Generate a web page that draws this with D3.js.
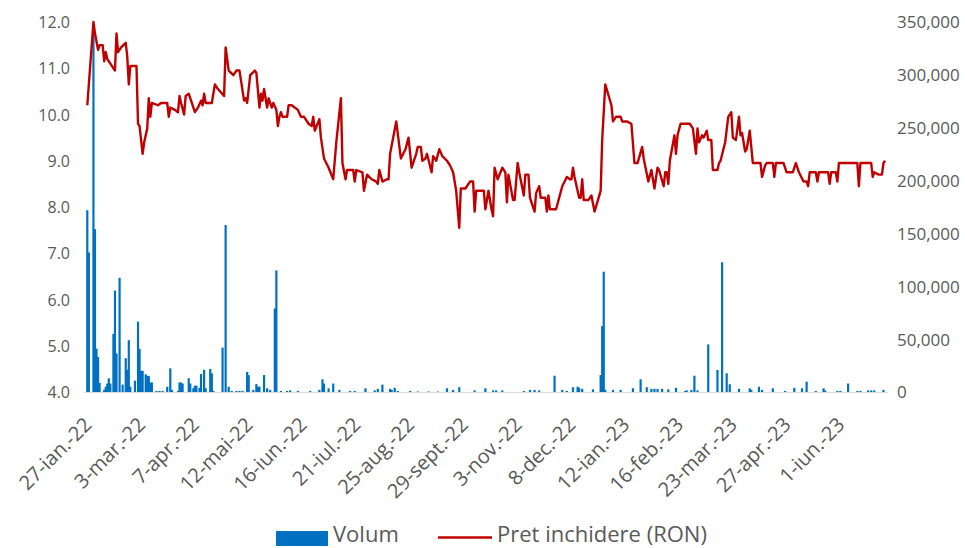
<!DOCTYPE html>
<html><head><meta charset="utf-8">
<script src="https://cdn.jsdelivr.net/npm/d3@7"></script>
<style>body{margin:0;background:#fff}svg{display:block}text{font-family:"Open Sans",Lato,sans-serif;fill:#595959}</style>
</head><body><svg id="c" width="965" height="548"></svg>
<script>
// ---- data ----
const priceDates = ["2022-01-27","2022-01-31","2022-02-01","2022-02-03","2022-02-04","2022-02-06","2022-02-07","2022-02-08","2022-02-09","2022-02-11","2022-02-14","2022-02-15","2022-02-16","2022-02-18","2022-02-21","2022-02-22","2022-02-23","2022-02-24","2022-02-28","2022-03-01","2022-03-02","2022-03-04","2022-03-05","2022-03-07","2022-03-08","2022-03-09","2022-03-10","2022-03-14","2022-03-16","2022-03-20","2022-03-21","2022-03-22","2022-03-25","2022-03-27","2022-03-28","2022-03-29","2022-03-31","2022-04-01","2022-04-03","2022-04-07","2022-04-09","2022-04-11","2022-04-12","2022-04-13","2022-04-14","2022-04-18","2022-04-20","2022-04-22","2022-04-26","2022-04-27","2022-04-29","2022-05-02","2022-05-04","2022-05-06","2022-05-09","2022-05-10","2022-05-11","2022-05-13","2022-05-16","2022-05-17","2022-05-19","2022-05-20","2022-05-21","2022-05-22","2022-05-24","2022-05-25","2022-05-27","2022-05-28","2022-05-30","2022-05-31","2022-06-01","2022-06-02","2022-06-03","2022-06-06","2022-06-07","2022-06-09","2022-06-13","2022-06-15","2022-06-17","2022-06-20","2022-06-22","2022-06-23","2022-06-24","2022-06-27","2022-06-28","2022-06-30","2022-07-03","2022-07-06","2022-07-08","2022-07-11","2022-07-12","2022-07-14","2022-07-15","2022-07-18","2022-07-19","2022-07-20","2022-07-21","2022-07-25","2022-07-26","2022-07-28","2022-07-31","2022-08-03","2022-08-04","2022-08-05","2022-08-07","2022-08-10","2022-08-11","2022-08-12","2022-08-16","2022-08-19","2022-08-22","2022-08-24","2022-08-26","2022-08-29","2022-08-30","2022-09-01","2022-09-02","2022-09-04","2022-09-05","2022-09-08","2022-09-09","2022-09-11","2022-09-13","2022-09-15","2022-09-18","2022-09-20","2022-09-22","2022-09-24","2022-09-26","2022-09-27","2022-09-30","2022-10-03","2022-10-05","2022-10-06","2022-10-07","2022-10-12","2022-10-13","2022-10-15","2022-10-17","2022-10-18","2022-10-19","2022-10-21","2022-10-24","2022-10-26","2022-10-27","2022-10-28","2022-10-31","2022-11-01","2022-11-03","2022-11-04","2022-11-07","2022-11-08","2022-11-10","2022-11-11","2022-11-14","2022-11-15","2022-11-17","2022-11-18","2022-11-21","2022-11-22","2022-11-23","2022-11-24","2022-11-28","2022-12-02","2022-12-05","2022-12-07","2022-12-08","2022-12-09","2022-12-10","2022-12-13","2022-12-14","2022-12-15","2022-12-16","2022-12-19","2022-12-21","2022-12-23","2022-12-27","2022-12-28","2022-12-30","2023-01-03","2023-01-04","2023-01-06","2023-01-09","2023-01-10","2023-01-13","2023-01-16","2023-01-18","2023-01-20","2023-01-23","2023-01-24","2023-01-27","2023-01-29","2023-01-31","2023-02-02","2023-02-03","2023-02-06","2023-02-07","2023-02-08","2023-02-09","2023-02-10","2023-02-13","2023-02-14","2023-02-15","2023-02-17","2023-02-20","2023-02-23","2023-02-25","2023-02-27","2023-02-28","2023-03-01","2023-03-03","2023-03-04","2023-03-06","2023-03-07","2023-03-09","2023-03-10","2023-03-13","2023-03-14","2023-03-15","2023-03-18","2023-03-20","2023-03-22","2023-03-23","2023-03-25","2023-03-27","2023-03-28","2023-03-29","2023-03-31","2023-04-01","2023-04-03","2023-04-05","2023-04-10","2023-04-11","2023-04-13","2023-04-14","2023-04-18","2023-04-19","2023-04-20","2023-04-25","2023-04-27","2023-05-01","2023-05-03","2023-05-05","2023-05-08","2023-05-10","2023-05-11","2023-05-12","2023-05-16","2023-05-17","2023-05-18","2023-05-24","2023-05-25","2023-05-26","2023-05-29","2023-05-30","2023-05-31","2023-06-12","2023-06-13","2023-06-14","2023-06-21","2023-06-22","2023-06-23","2023-06-26","2023-06-28","2023-06-29","2023-06-30"];
const priceValues = [10.2,12.0,11.75,11.4,11.5,11.5,11.15,11.35,11.2,11.1,10.95,11.75,11.35,11.45,11.55,11.25,10.65,11.05,11.05,9.8,9.75,9.15,9.4,9.7,10.35,9.95,10.25,10.2,10.25,10.25,9.95,10.15,10.1,10.05,10.4,10.25,10.0,10.4,10.45,10.05,10.15,10.3,10.2,10.45,10.25,10.25,10.65,10.55,10.4,11.45,10.95,10.85,10.95,10.95,10.3,10.35,10.25,10.85,10.95,10.9,10.15,10.45,10.3,10.55,10.15,10.35,10.15,10.25,10.1,9.75,9.95,10.05,9.95,9.95,10.2,10.2,10.1,9.95,9.95,9.8,9.75,9.95,9.65,9.9,9.5,9.05,8.85,8.6,9.4,10.35,8.95,8.6,8.8,8.8,8.8,8.55,8.8,8.75,8.35,8.7,8.6,8.55,8.5,8.8,8.55,8.6,8.6,9.15,9.85,9.05,9.25,9.5,8.85,9.15,9.3,9.3,9.0,9.05,9.15,8.75,9.1,9.0,9.25,9.1,9.0,8.9,8.75,8.35,7.55,8.4,8.4,8.55,8.55,7.9,8.35,8.35,7.95,8.35,7.95,7.8,8.85,8.6,8.85,8.75,8.1,8.7,8.15,8.15,8.95,8.75,8.25,8.7,8.7,8.2,7.9,8.3,8.45,8.2,8.2,7.9,8.25,7.95,7.95,8.45,8.65,8.6,8.6,8.85,8.65,8.2,8.2,8.6,8.15,8.15,8.25,7.9,8.35,9.45,10.65,10.2,9.85,9.95,9.95,9.85,9.85,9.8,8.95,8.95,9.3,9.05,8.55,8.8,8.4,8.85,8.8,8.45,8.75,8.75,8.5,9.0,9.55,9.15,9.55,9.8,9.8,9.8,9.7,9.15,9.7,9.4,9.55,9.5,9.65,9.45,9.45,8.8,8.8,8.95,9.0,9.4,9.95,10.05,9.5,9.45,9.95,9.55,9.6,9.2,9.25,9.65,8.95,8.95,8.65,8.9,8.95,8.95,8.65,8.95,8.95,8.75,8.75,8.95,8.75,8.55,8.55,8.45,8.75,8.75,8.55,8.75,8.75,8.5,8.75,8.75,8.55,8.95,8.95,8.45,8.95,8.95,8.65,8.75,8.7,8.7,8.95,9.0];
const volumeDates = ["2022-01-27","2022-01-28","2022-01-31","2022-02-01","2022-02-02","2022-02-03","2022-02-04","2022-02-07","2022-02-08","2022-02-09","2022-02-10","2022-02-11","2022-02-13","2022-02-14","2022-02-15","2022-02-17","2022-02-19","2022-02-21","2022-02-22","2022-02-23","2022-02-24","2022-02-27","2022-03-01","2022-03-02","2022-03-03","2022-03-04","2022-03-06","2022-03-07","2022-03-08","2022-03-09","2022-03-10","2022-03-13","2022-03-15","2022-03-17","2022-03-20","2022-03-22","2022-03-23","2022-03-27","2022-03-28","2022-03-29","2022-03-30","2022-04-03","2022-04-04","2022-04-06","2022-04-07","2022-04-08","2022-04-10","2022-04-11","2022-04-13","2022-04-14","2022-04-17","2022-04-18","2022-04-19","2022-04-25","2022-04-27","2022-04-29","2022-05-01","2022-05-04","2022-05-06","2022-05-08","2022-05-11","2022-05-12","2022-05-15","2022-05-17","2022-05-18","2022-05-19","2022-05-22","2022-05-24","2022-05-26","2022-05-29","2022-05-30","2022-06-02","2022-06-06","2022-06-08","2022-06-13","2022-06-21","2022-06-27","2022-06-29","2022-06-30","2022-07-03","2022-07-06","2022-07-10","2022-07-17","2022-07-20","2022-07-27","2022-08-02","2022-08-04","2022-08-07","2022-08-12","2022-08-13","2022-08-15","2022-08-17","2022-08-25","2022-08-30","2022-09-06","2022-09-12","2022-09-18","2022-09-22","2022-09-26","2022-10-06","2022-10-13","2022-10-18","2022-10-20","2022-10-24","2022-11-07","2022-11-11","2022-11-14","2022-11-17","2022-11-27","2022-12-02","2022-12-05","2022-12-09","2022-12-12","2022-12-13","2022-12-15","2022-12-22","2022-12-27","2022-12-28","2022-12-29","2022-12-30","2023-01-04","2023-01-09","2023-01-17","2023-01-22","2023-01-26","2023-01-29","2023-01-31","2023-02-02","2023-02-05","2023-02-09","2023-02-14","2023-02-20","2023-02-21","2023-02-24","2023-02-26","2023-02-28","2023-03-07","2023-03-13","2023-03-16","2023-03-19","2023-03-21","2023-03-27","2023-04-03","2023-04-04","2023-04-09","2023-04-11","2023-04-18","2023-04-26","2023-05-02","2023-05-07","2023-05-10","2023-05-16","2023-05-21","2023-05-22","2023-05-30","2023-06-01","2023-06-06","2023-06-12","2023-06-14","2023-06-19","2023-06-21","2023-06-23","2023-06-29"];
const volumeValues = [172000,132000,340000,154000,41000,33000,8500,2000,5000,8000,13000,8000,55000,96000,36500,108000,7000,32000,21000,49000,5000,10700,66500,40700,20000,20000,16700,15400,15000,9000,9000,1000,1000,1000,5000,22400,2000,1000,9000,9000,8000,13000,8000,3500,6000,6000,4000,17000,21000,3500,21800,17700,1000,42000,158000,5000,1000,1000,1000,1000,19000,16000,2000,7500,5000,5000,16000,3500,2000,79000,115000,1000,1000,1500,1000,1000,2000,12000,8000,3500,8000,2000,1000,1000,3500,1500,3000,7000,3000,2000,4000,1000,1000,500,500,500,3500,2000,4500,1500,3500,1500,1500,1500,1000,2000,2000,1500,15400,2000,1000,4500,5000,4000,3000,2500,16000,62400,113800,2000,2000,2000,3500,12000,4500,3000,3000,3000,3000,2500,4000,1000,1500,2000,15400,1500,45000,20800,122700,17700,7300,3000,3500,2000,5000,2000,3500,1000,4000,3500,9700,1000,3500,1500,1000,1000,8000,1000,1000,1500,1500,1500,2000];
const tickDates = ["2022-01-27","2022-03-03","2022-04-07","2022-05-12","2022-06-16","2022-07-21","2022-08-25","2022-09-29","2022-11-03","2022-12-08","2023-01-12","2023-02-16","2023-03-23","2023-04-27","2023-06-01"];
const tickLabels = ["27-ian.-22","3-mar.-22","7-apr.-22","12-mai-22","16-iun.-22","21-iul.-22","25-aug.-22","29-sept.-22","3-nov.-22","8-dec.-22","12-ian.-23","16-feb.-23","23-mar.-23","27-apr.-23","1-iun.-23"];
const priceTicks = [4,5,6,7,8,9,10,11,12];
const volumeTicks = [0,50000,100000,150000,200000,250000,300000,350000];
const seriesNames = ["Volum","Pret inchidere (RON)"];

// ---- chart ----
const parse = d3.utcParse("%Y-%m-%d");
const svg = d3.select("#c");
const L = 87.3, R = 885, T = 22, B = 392;
const x = d3.scaleUtc().domain([parse("2022-01-27"), parse("2023-06-30")]).range([L, R]);
const yL = d3.scaleLinear().domain([4, 12]).range([B, T]);
const yR = d3.scaleLinear().domain([0, 350000]).range([B, T]);
const blue = "#0070C0", red = "#C00000";

const vol = volumeDates.map((d, i) => ({d: parse(d), v: volumeValues[i]}));
const price = priceDates.map((d, i) => ({d: parse(d), p: priceValues[i]}));

// baseline
svg.append("line").attr("x1", L - 3).attr("x2", R + 3).attr("y1", B + 0.5).attr("y2", B + 0.5)
  .attr("stroke", "#d9d9d9").attr("stroke-width", 1);

// bars
const bw = 2.2;
svg.append("g").selectAll("rect").data(vol).join("rect")
  .attr("x", d => x(d.d) - bw / 2).attr("width", bw)
  .attr("y", d => yR(d.v)).attr("height", d => B - yR(d.v))
  .attr("fill", blue);

// price line
svg.append("path").datum(price)
  .attr("d", d3.line().x(d => x(d.d)).y(d => yL(d.p)))
  .attr("fill", "none").attr("stroke", red).attr("stroke-width", 2.4)
  .attr("stroke-linejoin", "round");

// left axis
const gl = svg.append("g").attr("transform", `translate(${70},0)`)
  .call(d3.axisLeft(yL).tickValues(priceTicks).tickFormat(d3.format(".1f")).tickSize(0).tickPadding(0));
gl.select(".domain").remove();
gl.selectAll("text").attr("font-size", 16).style("fill", "#595959").attr("dy", "0.35em");

// right axis
const gr = svg.append("g").attr("transform", `translate(${897},0)`)
  .call(d3.axisRight(yR).tickValues(volumeTicks).tickFormat(d3.format(",")).tickSize(0).tickPadding(0));
gr.select(".domain").remove();
gr.selectAll("text").attr("font-size", 17).style("fill", "#595959").attr("dy", "0.35em");

// bottom axis
const gb = svg.append("g").attr("transform", `translate(0,${B})`)
  .call(d3.axisBottom(x).tickValues(tickDates.map(parse)).tickFormat((d, i) => tickLabels[i]).tickSize(0));
gb.select(".domain").remove();
gb.selectAll("text").attr("font-size", 20).style("fill", "#595959")
  .attr("text-anchor", "end").attr("dy", 0).attr("y", 0)
  .attr("transform", "translate(5,34) rotate(-45)");

// legend
const lg = svg.append("g");
lg.append("rect").attr("x", 276).attr("y", 531).attr("width", 52).attr("height", 15).attr("fill", blue);
lg.append("text").attr("x", 333).attr("y", 542).attr("font-size", 22).text(seriesNames[0]);
lg.append("line").attr("x1", 438).attr("x2", 492).attr("y1", 537.5).attr("y2", 537.5).attr("stroke", red).attr("stroke-width", 2.4);
lg.append("text").attr("x", 497).attr("y", 542).attr("font-size", 22).text(seriesNames[1]);
</script></body></html>
